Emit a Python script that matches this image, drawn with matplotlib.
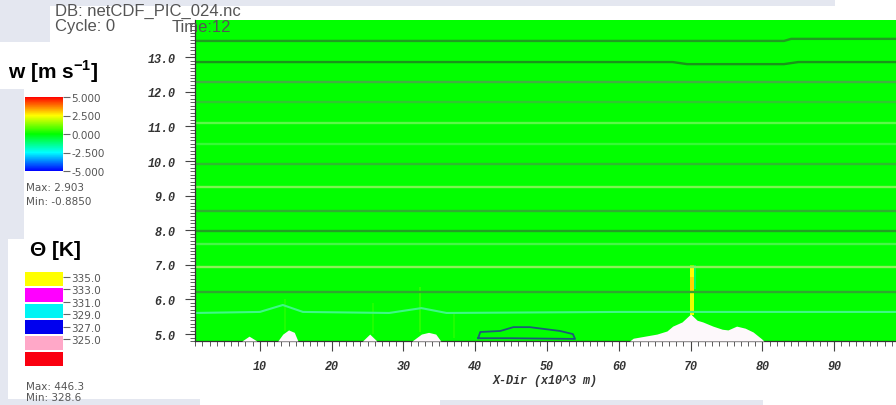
import matplotlib
matplotlib.use('Agg')
import matplotlib.pyplot as plt
import numpy as np
from matplotlib.colors import LinearSegmentedColormap, Normalize
from matplotlib.patches import Rectangle
from matplotlib.ticker import MultipleLocator

plt.rcParams['axes.unicode_minus'] = False
plt.rcParams['mathtext.fontset'] = 'custom'
plt.rcParams['mathtext.bf'] = 'Liberation Sans:bold'
plt.rcParams['mathtext.rm'] = 'Liberation Sans'

W, H = 896, 406

# ---------------- data ----------------
x_ticks = [10, 20, 30, 40, 50, 60, 70, 80, 90]
y_ticks = [5.0, 6.0, 7.0, 8.0, 9.0, 10.0, 11.0, 12.0, 13.0]

w_ticks = [5.0, 2.5, 0.0, -2.5, -5.0]
w_max, w_min = 2.903, -0.8850

theta_levels = [325.0, 327.0, 329.0, 331.0, 333.0, 335.0]
theta_colors = ['#fa0010', '#ffa8c8', '#0000ee', '#00f4f4', '#ff00ff', '#ffff00']
theta_max, theta_min = 446.3, 328.6

# terrain (km)
terrain_x = [0.97, 7.5, 8.5, 9.6, 12.5, 13.2, 14.0, 14.8, 15.3, 24.3, 25.3, 26.3,
             31.2, 32.5, 33.5, 34.5, 35.2, 61.5, 62.0, 65.3, 66.7, 67.5, 68.8, 70.0,
             70.9, 71.7, 73.1, 74.4, 75.2, 76.4, 77.6, 78.7, 79.9, 80.2, 98.6]
terrain_z = [4.80, 4.80, 4.94, 4.80, 4.80, 5.00, 5.12, 5.05, 4.80, 4.80, 5.00, 4.80,
             4.80, 5.00, 5.05, 5.00, 4.80, 4.80, 4.88, 5.00, 5.09, 5.23, 5.35, 5.58,
             5.40, 5.35, 5.23, 5.14, 5.12, 5.23, 5.17, 5.06, 4.86, 4.80, 4.80]

# w features (x0, x1, z0, z1, value) -- everything else is ~0
w_x0 = [69.9, 69.9, 69.9, 69.9, 70.5, 13.3, 25.6, 32.2, 36.9]
w_x1 = [70.5, 70.5, 70.5, 70.5, 70.8, 13.6, 25.9, 32.5, 37.2]
w_z0 = [6.90, 6.65, 6.25, 5.55, 6.30, 5.10, 5.00, 5.05, 4.90]
w_z1 = [7.02, 6.90, 6.65, 6.25, 7.00, 6.00, 5.90, 6.35, 5.60]
w_val = [1.2, 2.5, 2.903, 2.3, -0.885, 0.3, 0.3, 0.4, 0.3]

# theta isolines, flat ones (km) and their rendered colours
iso_z = [12.28, 11.71, 11.10, 10.49, 9.91, 9.25, 8.55, 7.98, 7.60, 6.94, 6.21]
iso_col = ['#42b042', '#30c830', '#5cf848', '#38f838', '#2ebc2e', '#7cf452',
           '#2fb02f', '#22a022', '#48f448', '#8cf05a', '#2ea82e']

# isolines with small steps
top1_x = [0.97, 83.0, 84.0, 98.6]
top1_z = [13.47, 13.47, 13.53, 13.53]
top2_x = [0.97, 67.5, 69.5, 83.0, 85.0, 98.6]
top2_z = [12.86, 12.86, 12.80, 12.80, 12.86, 12.86]
low_x = [0.97, 10.0, 13.2, 16.0, 28.0, 32.5, 36.0, 60.0, 98.6]
low_z = [5.61, 5.64, 5.84, 5.64, 5.61, 5.75, 5.61, 5.64, 5.64]

# closed blue contour near x=40..54
blob_x = [40.4, 40.7, 43.5, 45.3, 47.6, 51.8, 53.6, 53.9, 45.0, 41.0, 40.4]
blob_z = [4.88, 5.06, 5.09, 5.20, 5.20, 5.09, 5.00, 4.86, 4.88, 4.88, 4.88]

# ---------------- figure ----------------
fig = plt.figure(figsize=(W / 100, H / 100), dpi=100)
fig.patch.set_facecolor('white')


def px_axes(x0, y0, x1, y1):
    return fig.add_axes([x0 / W, 1 - y1 / H, (x1 - x0) / W, (y1 - y0) / H])


def px_rect(x0, y0, x1, y1, color):
    fig.add_artist(Rectangle((x0 / W, 1 - y1 / H), (x1 - x0) / W, (y1 - y0) / H,
                             transform=fig.transFigure, facecolor=color,
                             edgecolor='none', zorder=-5))


gray = '#e4e7f0'
px_rect(0, 0, 835, 7, gray)
px_rect(0, 0, 50, 43, gray)
px_rect(0, 90, 24, 240, gray)
px_rect(0, 240, 8, 406, gray)
px_rect(0, 400, 200, 406, gray)
px_rect(440, 401, 763, 406, gray)

cmap = LinearSegmentedColormap.from_list(
    'visit_hot', ['#0000ff', '#00ffff', '#00ff00', '#ffff00', '#ff0000'])
norm = Normalize(-5, 5)

ax = px_axes(195, 21, 896, 342)
xlo, xhi, zlo, zhi = 0.97, 98.6, 4.80, 14.075

xe = np.arange(0, 100.01, 0.1)
ze = np.arange(4.8, 14.2, 0.05)
xc = (xe[:-1] + xe[1:]) / 2
zc = (ze[:-1] + ze[1:]) / 2
field = np.zeros((len(zc), len(xc)))
for x0, x1, z0, z1, v in zip(w_x0, w_x1, w_z0, w_z1, w_val):
    mx = (xc >= x0) & (xc <= x1)
    mz = (zc >= z0) & (zc <= z1)
    field[np.ix_(mz, mx)] = v
mesh = ax.pcolormesh(xe, ze, field, cmap=cmap, norm=norm, shading='flat', zorder=0)

for z, c in zip(iso_z, iso_col):
    ax.axhline(z, color=c, lw=1.7, zorder=2)
ax.plot(top1_x, top1_z, color='#1f9c1f', lw=1.7, zorder=2)
ax.plot(top2_x, top2_z, color='#1a941a', lw=1.7, zorder=2)
ax.plot(low_x, low_z, color='#3ef888', lw=1.5, zorder=2)
ax.plot(blob_x, blob_z, color='#1d5a78', lw=1.3, zorder=2.5)

ax.fill_between(terrain_x, zlo, terrain_z, color='#fdf8fb', lw=0, zorder=3)

ax.set_xlim(xlo, xhi)
ax.set_ylim(zlo, zhi)
for s in ['top', 'right']:
    ax.spines[s].set_visible(False)
for s in ['left', 'bottom']:
    ax.spines[s].set_color('#333333')
    ax.spines[s].set_linewidth(0.9)

mono = dict(family='Liberation Mono', weight='bold', style='italic', size=8.5)
ax.set_xticks(x_ticks)
ax.set_xticklabels([str(v) for v in x_ticks], fontdict=mono, color='#333333')
ax.set_yticks(y_ticks)
ax.set_yticklabels(['%.1f' % v for v in y_ticks], fontdict=mono, color='#333333')
ax.xaxis.set_minor_locator(MultipleLocator(1))
ax.yaxis.set_minor_locator(MultipleLocator(0.1))
ax.tick_params(which='major', direction='out', length=7, width=0.8, color='#444444')
ax.tick_params(which='minor', direction='out', length=3.5, width=0.6, color='#444444')
ax.tick_params(axis='x', which='major', pad=7)
ax.tick_params(axis='y', which='major', pad=7)
ax.set_xlabel('X-Dir (x10^3 m)', fontdict=mono, color='#333333', labelpad=1)

# ---------------- annotations ----------------
sans = 'Liberation Sans'
fig.text(55 / W, 1 - 11 / H, 'DB: netCDF_PIC_024.nc', fontsize=12, family=sans,
         color='#555555', va='center')
fig.text(55 / W, 1 - 27 / H, 'Cycle: 0', fontsize=12, family=sans,
         color='#555555', va='center')
fig.text(172 / W, 1 - 27 / H, 'Time:12', fontsize=12, family=sans,
         color='#555555', va='center')

fig.text(8 / W, 1 - 72 / H, r'w [m s$^{\mathbf{-1}}$]', fontsize=15, family=sans,
         fontweight='bold', va='center')
fig.text(30 / W, 1 - 250 / H, 'Θ [K]', fontsize=15, family=sans,
         fontweight='bold', va='center')

small = dict(fontsize=7.5, family='DejaVu Sans', color='#555555', va='center')

# w colour bar
cax = px_axes(25, 98, 63, 172)
cb = fig.colorbar(mesh, cax=cax, ticks=w_ticks)
cb.outline.set_visible(False)
cax.set_yticklabels(['%.3f' % v for v in w_ticks])
cax.tick_params(length=5, width=0.8, color='#666666', labelsize=7.5,
                labelcolor='#555555', pad=1)
fig.text(26 / W, 1 - 188 / H, 'Max: %.3f' % w_max, **small)
fig.text(26 / W, 1 - 202 / H, 'Min: %.4f' % w_min, **small)

# theta legend
tax = px_axes(25, 272, 63, 368)
for i, c in enumerate(theta_colors):
    tax.barh(i + 0.5, 1, height=0.85, left=0, color=c)
tax.set_xlim(0, 1)
tax.set_ylim(0, len(theta_levels))
for s in tax.spines.values():
    s.set_visible(False)
tax.set_xticks([])
tax.yaxis.tick_right()
tick_pos = 5.625 - 0.775 * np.arange(len(theta_levels))
tax.set_yticks(tick_pos)
tax.set_yticklabels(['%.1f' % v for v in theta_levels[::-1]])
tax.tick_params(length=5, width=0.8, color='#666666', labelsize=7.5,
                labelcolor='#555555', pad=1)
fig.text(26 / W, 1 - 387 / H, 'Max: %.1f' % theta_max, **small)
fig.text(26 / W, 1 - 398 / H, 'Min: %.1f' % theta_min, **small)

fig.savefig('out.png', dpi=100)
